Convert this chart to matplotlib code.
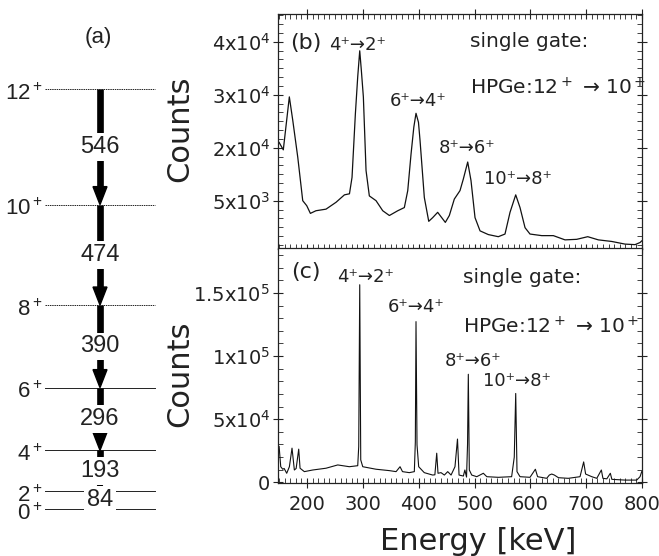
import numpy as np
import matplotlib
matplotlib.use('Agg')
import matplotlib.pyplot as plt
from matplotlib.patches import Polygon
from matplotlib.ticker import MultipleLocator

plt.rcParams['font.family'] = ['DejaVu Sans']
plt.rcParams['mathtext.default'] = 'regular'

# level scheme (a)
transitions = [84, 193, 296, 390, 474, 546]
spins = ['0', '2', '4', '6', '8', '10', '12']

# spectrum (b): gate on 12+ -> 10+, coarse binning
energy_b = [150, 157.5, 168.3, 174.4, 183.4, 192.3, 199.5, 206, 216, 234, 252, 267, 276,
            280.6, 286.6, 290.8, 294.4, 297.3, 300.9, 305.7, 311.6, 323.6, 335.6, 347.5,
            362.5, 374.3, 380.4, 386.3, 391.3, 395.2, 399.6, 402.4, 410.1, 418, 425.1, 434,
            447.7, 454.9, 463.8, 474, 480, 487.8, 493.7, 500.9, 509.9, 524.7, 542.6, 554.6,
            563.6, 573.8, 581.5, 590.5, 599.4, 620.4, 641.2, 662.1, 683, 702.8, 721.8,
            745.8, 769.6, 787.5, 796.5, 799.5]
counts_b = [21000, 19600, 29600, 25200, 18200, 10000, 9050, 7600, 8100, 8400, 9700, 11100, 11300,
            14400, 26400, 33400, 38300, 34600, 29600, 15700, 10900, 10000, 8100, 7200,
            8100, 8700, 11900, 18800, 23900, 26500, 24800, 21400, 10600, 6100, 6800, 7800,
            5900, 7200, 10300, 11900, 14100, 17300, 13800, 6800, 4300, 3600, 3200, 3700,
            7800, 11100, 8700, 4900, 3700, 3400, 3400, 2600, 2700, 3200, 2600,
            2300, 1800, 1700, 2100, 2400]

# spectrum (c): gate on 12+ -> 10+, fine binning
energy_c = [150, 152.9, 156.5, 159, 163.6, 168.4, 173.1, 177.3, 180.5, 185.1, 187.5, 195.2,
            210.2, 234, 255, 275.8, 290.8, 292.6, 294.4, 296.2, 299.8, 323.6, 347.5, 359.5,
            366.6, 371, 383.2, 392.2, 394, 395.2, 397, 400, 410, 425, 429, 432.3, 434.6,
            440, 446, 452, 458, 465, 469.5, 472.3, 480, 482.7, 485.7, 487.5, 488.9, 490.7,
            495, 504, 515.8, 522, 542.6, 566.5, 571.2, 573.8, 576.1, 581.5, 599.4, 609,
            613, 629.3, 634, 638.3, 643, 650.3, 668, 689, 695.5, 699, 710, 719, 727.2,
            730, 737, 743.3, 746, 769.6, 790.5, 796.5, 799.5]
counts_c = [28400, 12400, 10400, 11000, 7200, 12400, 27100, 9800, 11000, 26300, 11200, 8500,
            9800, 11200, 13800, 12400, 13200, 28400, 156500, 17800, 12400, 10400, 9300, 8500,
            12400, 8500, 7700, 8500, 32000, 127300, 29700, 12400, 7700, 5800, 6000, 23100, 7200,
            7700, 5800, 8500, 5800, 12400, 34300, 5800, 5000, 9800, 4200, 30000, 85600, 9800,
            5800, 4500, 7200, 4500, 4000, 4500, 20000, 70400, 8500, 4500, 4000, 10400,
            4500, 3200, 5800, 6600, 5800, 3700, 3200, 4500, 16200, 6600, 4500, 3200, 9800,
            3200, 2800, 7200, 2400, 1800, 1800, 4500, 8500]

fig = plt.figure(figsize=(6.59, 5.56), dpi=100)

# ---- (a) level scheme, y in keV ----
px = 1 / 0.2118  # keV per pixel
levels = np.concatenate([[0], np.cumsum(transitions)])
ax_a = fig.add_axes([0, 0, 160 / 659, 1])
ax_a.set_xlim(0, 160)
ax_a.set_ylim(-47 * px, 509 * px)
ax_a.axis('off')
lvl_font = ['Liberation Sans', 'DejaVu Sans']

for E, s in zip(levels, spins):
    ls = (0, (1.5, 0.8)) if E > 900 else '-'
    ax_a.plot([45, 155], [E, E], color='#222222', lw=0.7, ls=ls, zorder=1)
    ax_a.text(43, E - 10.5 * px, s + '$^+$', ha='right', va='baseline',
              fontsize=16, family=lvl_font, color='#222222')

for i, dE in enumerate(transitions):
    bot, top = levels[i], levels[i + 1]
    hh = 18 * px if dE > 100 else 8 * px
    ax_a.plot([100, 100], [top, bot + hh], color='k', lw=4.8,
              solid_capstyle='butt', zorder=2)
    ax_a.add_patch(Polygon([(93, bot + hh), (107, bot + hh), (100, bot)],
                           closed=True, color='k', zorder=2))
    ax_a.text(100, (top + bot) / 2, str(dE), ha='center', va='center',
              fontsize=17, family=lvl_font, color='#222222', zorder=3,
              bbox=dict(facecolor='white', edgecolor='none', boxstyle='square,pad=0.12'))

ax_a.text(98, (509 - 38) * px, '(a)', ha='center', va='center',
          fontsize=16, family=lvl_font, color='#222222')

# ---- (b) and (c) spectra ----
ax_b = fig.add_axes([278 / 659, 1 - 248.5 / 556, 364 / 659, 234.5 / 556])
ax_c = fig.add_axes([278 / 659, 1 - 483 / 556, 364 / 659, 234.5 / 556])

ax_b.plot(energy_b, counts_b, color='#111111', lw=0.9)
ax_c.plot(energy_c, counts_c, color='#111111', lw=0.8)

for ax in (ax_b, ax_c):
    ax.set_xlim(148, 800)
    ax.xaxis.set_major_locator(MultipleLocator(100))
    ax.xaxis.set_minor_locator(MultipleLocator(10))
    ax.tick_params(which='major', direction='inout', length=7, width=0.8,
                   top=True, right=True, labelsize=14, pad=2, colors='#222222')
    ax.tick_params(which='minor', direction='in', length=3.5, width=0.6,
                   top=True, right=True, colors='#222222')
    ax.tick_params(axis='x', which='major', pad=5)
    for sp in ax.spines.values():
        sp.set_linewidth(0.9)
        sp.set_color('#222222')

ax_b.set_ylim(970, 45250)
ax_b.set_yticks([10000, 20000, 30000, 40000],
                ['5x10$^3$', '2x10$^4$', '3x10$^4$', '4x10$^4$'])
ax_b.yaxis.set_minor_locator(MultipleLocator(10000 / 6))
ax_b.tick_params(axis='x', labelbottom=False)

ax_c.set_ylim(-500, 185200)
ax_c.set_yticks([0, 50000, 100000, 150000],
                ['0', '5x10$^4$', '1x10$^5$', '1.5x10$^5$'])
ax_c.yaxis.set_minor_locator(MultipleLocator(10000))
ax_c.tick_params(axis='x', which='both', top=False)

tc = '#222222'
ax_b.text(198, 39700, '(b)', ha='center', va='center', fontsize=16, color=tc)
ax_b.text(291, 39400, '4⁺→2⁺', ha='center', va='center', fontsize=13, color=tc)
ax_b.text(492, 40100, 'single gate:', ha='left', va='center', fontsize=14.5, color=tc)
ax_b.text(492, 31400, 'HPGe:12$^+$ → 10$^+$', ha='left', va='center', fontsize=14.5, color=tc)
ax_b.text(399, 28900, '6⁺→4⁺', ha='center', va='center', fontsize=13, color=tc)
ax_b.text(487, 20000, '8⁺→6⁺', ha='center', va='center', fontsize=13, color=tc)
ax_b.text(578, 14000, '10⁺→8⁺', ha='center', va='center', fontsize=13, color=tc)

ax_c.text(198, 166900, '(c)', ha='center', va='center', fontsize=16, color=tc)
ax_c.text(304, 163000, '4⁺→2⁺', ha='center', va='center', fontsize=13, color=tc)
ax_c.text(479, 162400, 'single gate:', ha='left', va='center', fontsize=14.5, color=tc)
ax_c.text(479, 123300, 'HPGe:12$^+$ → 10$^+$', ha='left', va='center', fontsize=14.5, color=tc)
ax_c.text(395, 139200, '6⁺→4⁺', ha='center', va='center', fontsize=13, color=tc)
ax_c.text(497, 95900, '8⁺→6⁺', ha='center', va='center', fontsize=13, color=tc)
ax_c.text(576, 80000, '10⁺→8⁺', ha='center', va='center', fontsize=13, color=tc)

fig.text(180 / 659, 1 - 129 / 556, 'Counts', rotation=90, ha='center', va='center',
         fontsize=22, color=tc)
fig.text(180 / 659, 1 - 374 / 556, 'Counts', rotation=90, ha='center', va='center',
         fontsize=22, color=tc)
fig.text(478 / 659, 1 - 541 / 556, 'Energy [keV]', ha='center', va='center',
         fontsize=22, color=tc)

fig.savefig('out.png', dpi=100)
